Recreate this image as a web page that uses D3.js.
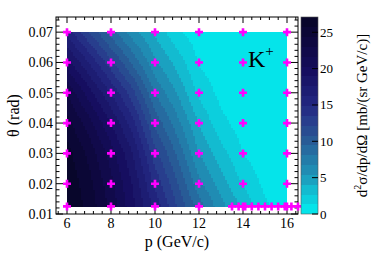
<!DOCTYPE html>
<html>
<head>
<meta charset="utf-8">
<script src="https://cdn.jsdelivr.net/npm/d3@7"></script>
<style>
    body { margin: 0; background: #fff; }
    text { font-family: 'Liberation Serif', 'DejaVu Serif', serif; fill: #000; }
</style>
</head>
<body>
<div id="chart"></div>
<script>
// grid of the cross section
const pVals = [6, 7, 8, 9, 10, 11, 12, 13, 14, 15, 16];
const thetaVals = [0.0125, 0.02, 0.03, 0.04, 0.05, 0.06, 0.07];
const xsec = [
    [27.0, 25.3, 22.6, 19.3, 15.8, 12.2, 8.8, 5.9, 3.8, 1.6, 0.6],
    [26.8, 24.9, 22.1, 18.8, 14.6, 11.0, 7.2, 4.75, 2.55, 0.98, 0.34],
    [26.3, 24.0, 21.0, 17.6, 12.7, 9.3, 5.4, 3.26, 1.33, 0.49, 0.16],
    [25.0, 22.3, 19.0, 15.4, 10.5, 7.3, 3.95, 1.75, 0.66, 0.22, 0.08],
    [22.9, 19.6, 16.2, 12.6, 8.0, 5.3, 2.35, 0.9, 0.31, 0.11, 0.045],
    [19.6, 16.2, 12.6, 9.1, 5.66, 3.54, 1.21, 0.44, 0.15, 0.057, 0.024],
    [15.8, 12.2, 8.8, 5.9, 3.8, 1.6, 0.6, 0.2, 0.07, 0.03, 0.01],
];

// measured points
const markerP = [6, 8, 10, 12, 14, 16];
const markerTheta = [0.0125, 0.02, 0.03, 0.04, 0.05, 0.06, 0.07];
const extraP = [13.5, 13.8, 14.1, 14.4, 14.7, 15.0, 15.3, 15.6, 15.9, 16.2, 16.5];
const extraTheta = 0.0125;

const xTicks = [6, 8, 10, 12, 14, 16];
const yTicks = [0.01, 0.02, 0.03, 0.04, 0.05, 0.06, 0.07];
const zTicks = [0, 5, 10, 15, 20, 25];
const zMax = 27.1;
const nLevels = 20;

// palette stops (value fraction -> colour)
const paletteStops = [
    [0.0, '#05e4ea'],
    [0.11, '#14b9cf'],
    [0.18, '#1e96b9'],
    [0.26, '#237daa'],
    [0.37, '#285a96'],
    [0.48, '#283c8c'],
    [0.55, '#232882'],
    [0.74, '#160e5f'],
    [0.89, '#0e0841'],
    [1.0, '#08062b'],
];

const W = 374, H = 253;
const margin = { left: 56, right: 76, top: 17, bottom: 39 };

const svg = d3.select('#chart').append('svg')
    .attr('width', W).attr('height', H)
    .attr('viewBox', [0, 0, W, H]);

const x = d3.scaleLinear().domain([5.5, 16.5]).range([margin.left, W - margin.right]);
const y = d3.scaleLinear().domain([0.01, 0.075]).range([H - margin.bottom, margin.top]);
const z = d3.scaleLinear().domain([0, zMax]).range([H - margin.bottom, margin.top]);

const palette = d3.scaleLinear()
    .domain(paletteStops.map((d) => d[0]))
    .range(paletteStops.map((d) => d[1]))
    .interpolate(d3.interpolateRgb);
const step = zMax / nLevels;
const bandColor = (i) => palette(i / (nLevels - 1));
const colorOf = (v) => bandColor(Math.max(0, Math.min(nLevels - 1, Math.floor(v / step))));

// bilinear lookup in the grid
function lookup(p, t) {
    let i = Math.min(pVals.length - 2, Math.max(0, d3.bisectRight(pVals, p) - 1));
    let j = Math.min(thetaVals.length - 2, Math.max(0, d3.bisectRight(thetaVals, t) - 1));
    const fx = (p - pVals[i]) / (pVals[i + 1] - pVals[i]);
    const fy = (t - thetaVals[j]) / (thetaVals[j + 1] - thetaVals[j]);
    const a = xsec[j][i], b = xsec[j][i + 1], c = xsec[j + 1][i], d = xsec[j + 1][i + 1];
    return (a * (1 - fx) + b * fx) * (1 - fy) + (c * (1 - fx) + d * fx) * fy;
}

// heat map cells
const cell = 2;
const cells = [];
const x0 = x(pVals[0]), x1 = x(pVals[pVals.length - 1]);
const yTop = y(thetaVals[thetaVals.length - 1]), yBot = y(thetaVals[0]);
for (let px = x0; px < x1; px += cell) {
    for (let py = yTop; py < yBot; py += cell) {
        const w = Math.min(cell, x1 - px), h = Math.min(cell, yBot - py);
        const v = lookup(x.invert(px + w / 2), y.invert(py + h / 2));
        cells.push({ px, py, w, h, v });
    }
}
svg.append('g').attr('shape-rendering', 'crispEdges')
    .selectAll('rect').data(cells).enter().append('rect')
    .attr('x', (d) => d.px).attr('y', (d) => d.py)
    .attr('width', (d) => d.w + 0.3).attr('height', (d) => d.h + 0.3)
    .attr('fill', (d) => colorOf(d.v));

// frame and ticks
const [fx0, fx1] = x.range();
const [fy0, fy1] = y.range();
svg.append('rect')
    .attr('x', fx0).attr('y', fy1).attr('width', fx1 - fx0).attr('height', fy0 - fy1)
    .attr('fill', 'none').attr('stroke', '#000').attr('stroke-width', 1);

const tickG = svg.append('g').attr('stroke', '#000').attr('stroke-width', 1);
const xMinor = d3.range(5.6, 16.45, 0.4);
const yMinor = d3.range(0.01, 0.0745, 0.002);
xMinor.forEach((v) => {
    const major = xTicks.some((t) => Math.abs(t - v) < 1e-6);
    const len = major ? 6 : 3;
    tickG.append('line').attr('x1', x(v)).attr('x2', x(v)).attr('y1', fy0).attr('y2', fy0 - len);
    tickG.append('line').attr('x1', x(v)).attr('x2', x(v)).attr('y1', fy1).attr('y2', fy1 + len);
});
yMinor.forEach((v) => {
    const major = yTicks.some((t) => Math.abs(t - v) < 1e-6);
    const len = major ? 7 : 3.5;
    tickG.append('line').attr('x1', fx0).attr('x2', fx0 + len).attr('y1', y(v)).attr('y2', y(v));
    tickG.append('line').attr('x1', fx1).attr('x2', fx1 - len).attr('y1', y(v)).attr('y2', y(v));
});

svg.append('g').selectAll('text').data(xTicks).enter().append('text')
    .attr('x', (d) => x(d)).attr('y', fy0 + 14)
    .attr('text-anchor', 'middle').attr('font-size', 14)
    .text((d) => d);
svg.append('g').selectAll('text').data(yTicks).enter().append('text')
    .attr('x', fx0 - 3).attr('y', (d) => y(d) + 5)
    .attr('text-anchor', 'end').attr('font-size', 14)
    .text((d) => d.toFixed(2));

// axis titles
svg.append('text')
    .attr('x', (fx0 + fx1) / 2).attr('y', 247)
    .attr('text-anchor', 'middle').attr('font-size', 16)
    .text('p (GeV/c)');
svg.append('text')
    .attr('transform', `translate(19, ${ (fy0 + fy1) / 2 }) rotate(-90)`)
    .attr('text-anchor', 'middle').attr('font-size', 16)
    .text('θ (rad)');

// markers
const cross = 'M-1.3,-4H1.3V-1.3H4V1.3H1.3V4H-1.3V1.3H-4V-1.3H-1.3Z';
const points = [];
markerTheta.forEach((t) => markerP.forEach((p) => points.push([p, t])));
extraP.forEach((p) => points.push([p, extraTheta]));
svg.append('g').selectAll('path').data(points).enter().append('path')
    .attr('d', cross)
    .attr('transform', (d) => `translate(${ x(d[0]) }, ${ y(d[1]) })`)
    .attr('fill', '#ff00ff');

// label
const kLabel = svg.append('text').attr('x', 248).attr('y', 67).attr('font-size', 24);
kLabel.append('tspan').text('K');
kLabel.append('tspan').attr('dy', -11).attr('font-size', 15).text('+');

// colour bar
const cbX = 301, cbW = 17;
const levels = d3.range(nLevels);
svg.append('g').attr('shape-rendering', 'crispEdges')
    .selectAll('rect').data(levels).enter().append('rect')
    .attr('x', cbX).attr('width', cbW)
    .attr('y', (i) => z((i + 1) * step))
    .attr('height', (i) => z(i * step) - z((i + 1) * step) + 0.3)
    .attr('fill', (i) => bandColor(i));
svg.append('rect')
    .attr('x', cbX).attr('y', z(zMax)).attr('width', cbW).attr('height', z(0) - z(zMax))
    .attr('fill', 'none').attr('stroke', '#555').attr('stroke-width', 0.6);
svg.append('g').attr('stroke', '#000').selectAll('line').data(zTicks).enter().append('line')
    .attr('x1', cbX + cbW).attr('x2', cbX + cbW - 6)
    .attr('y1', (d) => z(d)).attr('y2', (d) => z(d));
svg.append('g').selectAll('text').data(zTicks).enter().append('text')
    .attr('x', cbX + cbW + 2).attr('y', (d) => z(d) + 4.5)
    .attr('font-size', 13)
    .text((d) => d);

const zTitle = svg.append('text')
    .attr('transform', `translate(367, ${ (fy0 + fy1) / 2 }) rotate(-90)`)
    .attr('text-anchor', 'middle').attr('font-size', 15);
zTitle.append('tspan').text('d');
zTitle.append('tspan').attr('dy', -6).attr('font-size', 10).text('2');
zTitle.append('tspan').attr('dy', 6).text('σ/dp/dΩ [mb/(sr GeV/c)]');
</script>
</body>
</html>
